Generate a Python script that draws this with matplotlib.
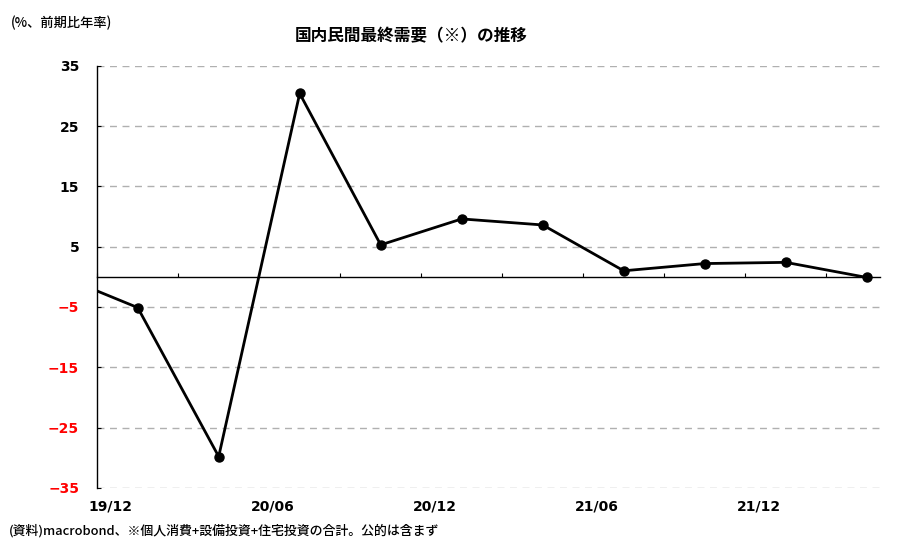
import matplotlib
matplotlib.use("Agg")
import matplotlib.pyplot as plt
import numpy as np

plt.rcParams['font.family'] = ['Noto Sans CJK JP', 'DejaVu Sans']

# quarterly data (first value lies before the axis start and is clipped)
quarters = ['19Q4', '20Q1', '20Q2', '20Q3', '20Q4', '21Q1', '21Q2', '21Q3', '21Q4', '22Q1', '22Q2']
values = [0.4, -5.1, -29.8, 30.4, 5.3, 9.6, 8.6, 1.0, 2.2, 2.4, -0.1]
tick_labels = ['19/12', '20/06', '20/12', '21/06', '21/12']
yticks = [35, 25, 15, 5, -5, -15, -25, -35]

title = '国内民間最終需要（※）の推移'
unit = '(%、前期比年率)'
source = '(資料)macrobond、※個人消費+設備投資+住宅投資の合計。公的は含まず'

# x in months since 2019/12; quarter points sit at mid-quarter
x = np.arange(len(quarters)) * 3 - 1.5

fig = plt.figure(figsize=(9, 5.57), dpi=100)
ax = fig.add_axes([0.108, 0.124, 0.870, 0.758])

ax.plot(x[1:], values[1:], color='black', lw=2.0, marker='o', ms=6.5, zorder=4, clip_on=False)
ax.plot(x[:2], values[:2], color='black', lw=2.0, zorder=4)

ax.set_xlim(0, 29)
ax.set_ylim(-35, 35)

for yv in yticks:
    ax.axhline(yv, color='#b0b0b0', lw=1.0, ls=(0, (5, 4)), zorder=1)

ax.spines['top'].set_visible(False)
ax.spines['right'].set_visible(False)
ax.spines['bottom'].set_position(('data', 0))
ax.spines['bottom'].set_linewidth(1.0)
ax.spines['left'].set_linewidth(1.0)
ax.set_xticks(np.arange(0, 30, 3))
ax.tick_params(axis='x', direction='in', length=3, labelbottom=False)
ax.set_yticks(yticks)
ax.tick_params(axis='y', direction='in', length=3, pad=13)
ax.set_yticklabels([str(v) if v >= 0 else '\u2212' + str(-v) for v in yticks],
                   fontsize=10, fontweight='bold', family=['DejaVu Sans'])
for lab, v in zip(ax.get_yticklabels(), yticks):
    lab.set_color('black' if v >= 0 else '#ff0000')

sec = ax.secondary_xaxis('bottom')
sec.set_xticks(np.arange(len(tick_labels)) * 6 + 0.5)
sec.set_xticklabels(tick_labels, fontsize=10, fontweight='bold', family=['DejaVu Sans'])
sec.tick_params(length=0, pad=8)
sec.spines['bottom'].set_visible(False)

fig.text(0.457, 0.935, title, ha='center', va='center', fontsize=12, fontweight='bold')
fig.text(0.012, 0.958, unit, ha='left', va='center', fontsize=9.5, fontweight='medium')
fig.text(0.010, 0.047, source, ha='left', va='center', fontsize=9.3, fontweight='medium')

fig.savefig('out.png', dpi=100)
